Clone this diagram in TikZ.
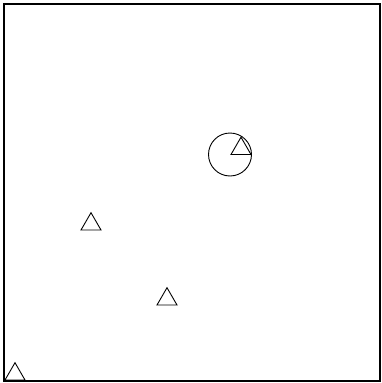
\documentclass[tikz,border=0pt]{standalone}
\begin{document}
\begin{tikzpicture}[x=1pt,y=-1pt,
  frame/.style={draw=black,line width=2pt},
  ring/.style={draw=black,line width=0.9pt},
  tri/.style={draw=black,line width=0.9pt,line join=miter}]
\useasboundingbox (0,0) rectangle (382,383);
\fill[white] (0,0) rectangle (382,383);
\draw[frame] (4,4) rectangle (380,381);
\coordinate (c) at (230,154.5);
\draw[ring] (c) circle[radius=21.5];
\foreach \bx/\by in {231/154.5, 81/230, 157/305, 5/380}{
  \draw[tri] (\bx,\by) -- ++(20,0) -- ++(-10,-17.3) -- cycle;
}
\end{tikzpicture}
\end{document}
